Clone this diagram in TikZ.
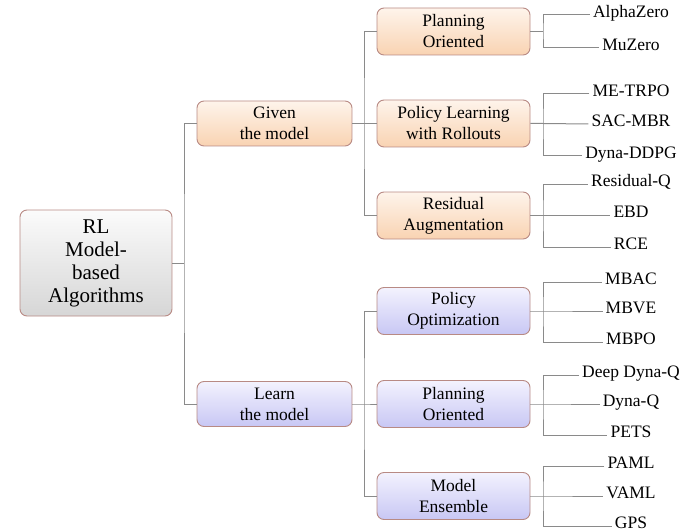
\documentclass[tikz,border=0pt]{standalone}
\usepackage{fontspec}
\setmainfont{LiberationSerif}[Extension=.ttf, UprightFont=*-Regular, BoldFont=*-Bold, ItalicFont=*-Italic, BoldItalicFont=*-BoldItalic]
\definecolor{frame}{HTML}{B88A84}
\definecolor{wire}{HTML}{8A8A8A}
\definecolor{peachTop}{HTML}{FEF4EB}
\definecolor{peachBot}{HTML}{F9D3B2}
\definecolor{lilacTop}{HTML}{F3F2FE}
\definecolor{lilacBot}{HTML}{C8C7F4}
\definecolor{greyTop}{HTML}{FBFBFB}
\definecolor{greyBot}{HTML}{D6D6D6}
\tikzset{
  box/.style={draw=frame, line width=0.9pt, rounded corners=7pt, align=center,
    inner sep=0pt, font=\fontsize{17.5}{21}\selectfont},
  rootbox/.style={box, top color=greyTop, bottom color=greyBot,
    minimum width=152pt, minimum height=106pt, font=\fontsize{21}{23}\selectfont},
  givenbox/.style={box, top color=peachTop, bottom color=peachBot,
    minimum width=155pt, minimum height=45pt},
  learnbox/.style={box, top color=lilacTop, bottom color=lilacBot,
    minimum width=155pt, minimum height=45pt},
  givensub/.style={givenbox, minimum width=153pt, minimum height=47pt},
  learnsub/.style={learnbox, minimum width=153pt, minimum height=47pt},
  leaf/.style={inner sep=3pt, text height=0.68em, text depth=0.2em,
    font=\fontsize{17.5}{21}\selectfont},
  wireline/.style={draw=wire, line width=1pt}
}
\begin{document}
\begin{tikzpicture}[x=1pt, y=-1pt]
\useasboundingbox (0,0) rectangle (696,532);

% root
\node[rootbox] (root) at (96,263) {RL\\Model-\\based\\Algorithms};

% first level
\node[givenbox] (given) at (274.5,123.5) {Given\\the model};
\node[learnbox] (learn) at (274.5,404) {Learn\\the model};

% second level
\node[givensub] (gplan) at (453.5,31.5) {Planning\\Oriented};
\node[givensub] (groll) at (453.5,123.5) {Policy Learning\\with Rollouts};
\node[givensub] (gres)  at (453.5,215.5) {Residual\\Augmentation};
\node[learnsub] (lopt)  at (453.5,311) {Policy\\Optimization};
\node[learnsub] (lplan) at (453.5,404) {Planning\\Oriented};
\node[learnsub] (lens)  at (453.5,496) {Model\\Ensemble};

% leaves
\node[leaf] (az)   at (631,15)  {AlphaZero};
\node[leaf] (mz)   at (631,48)  {MuZero};
\node[leaf] (me)   at (631,94)  {ME-TRPO};
\node[leaf] (sac)  at (631,124) {SAC-MBR};
\node[leaf] (ddpg) at (631,156) {Dyna-DDPG};
\node[leaf] (rq)   at (631,184) {Residual-Q};
\node[leaf] (ebd)  at (631,215.5) {EBD};
\node[leaf] (rce)  at (631,247) {RCE};
\node[leaf] (mbac) at (631,282) {MBAC};
\node[leaf] (mbve) at (631,311) {MBVE};
\node[leaf] (mbpo) at (631,342) {MBPO};
\node[leaf] (ddq)  at (631,375) {Deep Dyna-Q};
\node[leaf] (dq)   at (631,404) {Dyna-Q};
\node[leaf] (pets) at (631,435) {PETS};
\node[leaf] (paml) at (631,466) {PAML};
\node[leaf] (vaml) at (631,496) {VAML};
\node[leaf] (gps)  at (631,526) {GPS};

% junctions
\coordinate (j0) at (184,263);
\coordinate (j1) at (364,123.5);
\coordinate (j2) at (364,404);
\coordinate (k1) at (543,31.5);
\coordinate (k2) at (543,123.5);
\coordinate (k3) at (543,215.5);
\coordinate (k4) at (543,311);
\coordinate (k5) at (543,404);
\coordinate (k6) at (543,496);

% root to first level
\draw[wireline] (root.east) -- (j0);
\draw[wireline] (given.west) -| (j0) |- (learn.west);

% first to second level
\draw[wireline] (given.east) -- (j1) -- (groll.west);
\draw[wireline] (gplan.west) -| (j1) |- (gres.west);
\draw[wireline] (learn.east) -- (j2) -- (lplan.west);
\draw[wireline] (lopt.west) -| (j2) |- (lens.west);

% second level to leaves
\draw[wireline] (gplan.east) -- (k1);
\draw[wireline] (az.west) -| (k1) |- (mz.west);
\draw[wireline] (groll.east) -- (k2) -- (sac.west);
\draw[wireline] (me.west) -| (k2) |- (ddpg.west);
\draw[wireline] (gres.east) -- (k3) -- (ebd.west);
\draw[wireline] (rq.west) -| (k3) |- (rce.west);
\draw[wireline] (lopt.east) -- (k4) -- (mbve.west);
\draw[wireline] (mbac.west) -| (k4) |- (mbpo.west);
\draw[wireline] (lplan.east) -- (k5) -- (dq.west);
\draw[wireline] (ddq.west) -| (k5) |- (pets.west);
\draw[wireline] (lens.east) -- (k6) -- (vaml.west);
\draw[wireline] (paml.west) -| (k6) |- (gps.west);
\end{tikzpicture}
\end{document}
